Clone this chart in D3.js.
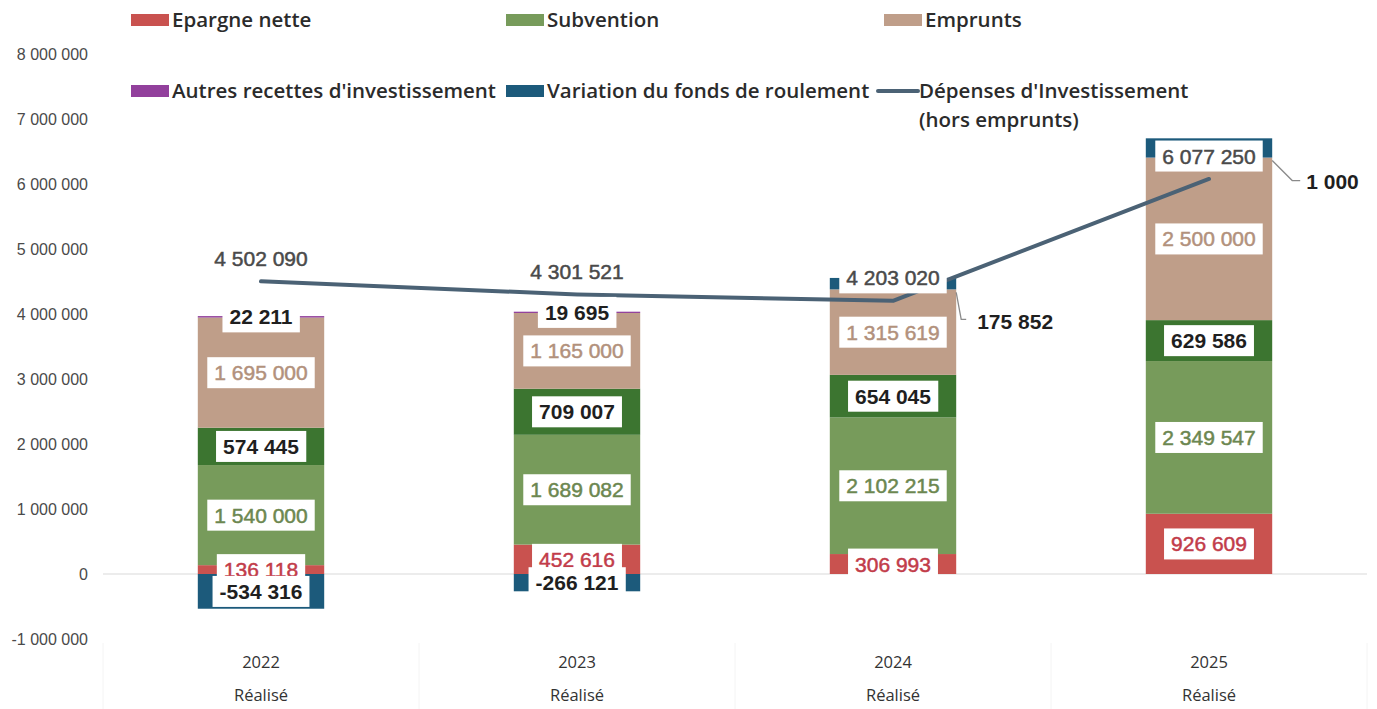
<!DOCTYPE html>
<html>
<head>
<meta charset="utf-8">
<script src="https://cdn.jsdelivr.net/npm/d3@7"></script>
<style>
  html, body { margin: 0; padding: 0; background: #ffffff; }
  svg { display: block; }
</style>
</head>
<body>
<svg id="chart" width="1377" height="709"></svg>
<script>
// ---- data -------------------------------------------------------------
const categories = ["2022", "2023", "2024", "2025"];
const categoryStatus = ["Réalisé", "Réalisé", "Réalisé", "Réalisé"];

const epargneNette   = [136118, 452616, 306993, 926609];
const subvention     = [1540000, 1689082, 2102215, 2349547];
const dotations      = [574445, 709007, 654045, 629586];
const emprunts       = [1695000, 1165000, 1315619, 2500000];
const autresRecettes = [22211, 19695, 0, 1000];
const variationFdr   = [-534316, -266121, 175852, 296000];
const depensesInvest = [4502090, 4301521, 4203020, 6077250];

const yTicks = [-1000000, 0, 1000000, 2000000, 3000000, 4000000, 5000000, 6000000, 7000000, 8000000];

// ---- series styling ---------------------------------------------------
const series = [
  { key: "epargne",    values: epargneNette,   color: "#c9524f", text: "#c23c4a", bold: false },
  { key: "subvention", values: subvention,     color: "#779b5b", text: "#6c8750", bold: false },
  { key: "dotations",  values: dotations,      color: "#3c7530", text: "#1f1f1f", bold: true  },
  { key: "emprunts",   values: emprunts,       color: "#bf9e89", text: "#b2917c", bold: false },
  { key: "autres",     values: autresRecettes, color: "#92409c", text: "#1f1f1f", bold: true  },
  { key: "variation",  values: variationFdr,   color: "#1c5a7b", text: "#1f1f1f", bold: true  }
];
const lineColor = "#4b6275";

const legendItems = [
  { name: ["Epargne nette"], color: "#c9524f", type: "rect", x: 131, y: 20 },
  { name: ["Subvention"], color: "#779b5b", type: "rect", x: 506, y: 20 },
  { name: ["Emprunts"], color: "#bf9e89", type: "rect", x: 884, y: 20 },
  { name: ["Autres recettes d'investissement"], color: "#92409c", type: "rect", x: 131, y: 91 },
  { name: ["Variation du fonds de roulement"], color: "#1c5a7b", type: "rect", x: 506, y: 91 },
  { name: ["Dépenses d'Investissement", "(hors emprunts)"], color: lineColor, type: "line", x: 878, y: 91 }
];

// labels drawn outside the bar with a leader line (offsets from the segment corner)
const callouts = {
  "variation-2024": { corner: "bottom", path: [[0, 3], [5, 30], [10, 30]], label: [21, 32] },
  "autres-2025":    { corner: "top",    path: [[0, 3], [20, 23], [28, 23]], label: [34, 24] }
};
// labels sitting under the expense label box
const hiddenLabels = new Set(["variation-2025"]);

// ---- formatting -------------------------------------------------------
const locale = d3.formatLocale({ decimal: ",", thousands: "\u00a0", grouping: [3], currency: ["", " €"], minus: "-" });
const fmt = locale.format(",d");

// ---- scales -----------------------------------------------------------
const svg = d3.select("#chart");
const x = d3.scaleBand().domain(categories).range([103, 1367]).paddingInner(0.6).paddingOuter(0.3);
const y = d3.scaleLinear().domain([-1000000, 8000000]).range([639, 54]);

// ---- y axis labels (no axis line) ------------------------------------
const yAxis = svg.append("g")
  .attr("transform", "translate(88,0)")
  .call(d3.axisLeft(y).tickValues(yTicks).tickFormat(fmt).tickSize(0).tickPadding(0));
yAxis.select(".domain").remove();
yAxis.selectAll("text")
  .attr("font-family", "Liberation Sans, Arial, sans-serif")
  .attr("font-size", 16)
  .attr("fill", "#4a4a4a");

// ---- category separators & labels -------------------------------------
const step = x.step();
const x0 = x.range()[0];
for (let i = 0; i <= categories.length; i++) {
  svg.append("line")
    .attr("x1", x0 + i * step).attr("x2", x0 + i * step)
    .attr("y1", 643).attr("y2", 709)
    .attr("stroke", "#f4f4f4").attr("stroke-width", 1);
}
const catG = svg.append("g");
categories.forEach((c, i) => {
  const cx = x(c) + x.bandwidth() / 2;
  catG.append("text").attr("x", cx).attr("y", 662).attr("dy", "0.35em")
    .attr("text-anchor", "middle").attr("font-family", "Open Sans, sans-serif")
    .attr("font-size", 16.5).attr("fill", "#333").text(c);
  catG.append("text").attr("x", cx).attr("y", 695).attr("dy", "0.35em")
    .attr("text-anchor", "middle").attr("font-family", "Open Sans, sans-serif")
    .attr("font-size", 16.5).attr("fill", "#333").text(categoryStatus[i]);
});

// ---- zero line --------------------------------------------------------
svg.append("line")
  .attr("x1", 103).attr("x2", 1367)
  .attr("y1", y(0)).attr("y2", y(0))
  .attr("stroke", "#dadada").attr("stroke-width", 1.2);

// ---- stacked bars -----------------------------------------------------
const rows = categories.map((c, i) => {
  const r = { cat: c };
  series.forEach(s => { r[s.key] = s.values[i]; });
  return r;
});
const stacked = d3.stack()
  .keys(series.map(s => s.key))
  .offset(d3.stackOffsetDiverging)(rows);

const barG = svg.append("g");
stacked.forEach((layer, li) => {
  barG.selectAll(null)
    .data(layer.filter(d => d[1] !== d[0]))
    .join("rect")
    .attr("x", d => x(d.data.cat))
    .attr("width", x.bandwidth())
    .attr("y", d => y(Math.max(d[0], d[1])))
    .attr("height", d => Math.abs(y(d[0]) - y(d[1])))
    .attr("fill", series[li].color);
});

// ---- expense line -----------------------------------------------------
const linePts = categories.map((c, i) => [x(c) + x.bandwidth() / 2, y(depensesInvest[i])]);
svg.append("path")
  .attr("d", d3.line()(linePts))
  .attr("fill", "none")
  .attr("stroke", lineColor)
  .attr("stroke-width", 4)
  .attr("stroke-linecap", "round")
  .attr("stroke-linejoin", "round");

// ---- labels -----------------------------------------------------------
const labelG = svg.append("g");
function boxedLabel(text, cx, cy, color, bold) {
  const g = labelG.append("g");
  const rect = g.append("rect").attr("fill", "#ffffff");
  const t = g.append("text")
    .attr("x", cx).attr("y", cy).attr("dy", "0.36em")
    .attr("text-anchor", "middle")
    .attr("font-family", "Liberation Sans, Arial, sans-serif")
    .attr("font-size", 21)
    .attr("font-weight", bold ? 700 : 400)
    .attr("fill", color)
    .attr("stroke", bold ? "none" : color)
    .attr("stroke-width", bold ? 0 : 0.5)
    .text(text);
  const bb = t.node().getBBox();
  const padX = 7, padY = 4;
  rect.attr("x", bb.x - padX).attr("y", bb.y - padY)
    .attr("width", bb.width + 2 * padX).attr("height", bb.height + 2 * padY);
}

stacked.forEach((layer, li) => {
  const s = series[li];
  layer.forEach((d, i) => {
    const v = s.values[i];
    if (v === 0) return;
    const id = s.key + "-" + d.data.cat;
    if (hiddenLabels.has(id)) return;
    const lo = Math.min(d[0], d[1]), hi = Math.max(d[0], d[1]);
    const co = callouts[id];
    if (co) {
      const xr = x(d.data.cat) + x.bandwidth();
      const ya = co.corner === "top" ? y(hi) : y(lo);
      labelG.append("path")
        .attr("d", d3.line()(co.path.map(p => [xr + p[0], ya + p[1]])))
        .attr("fill", "none").attr("stroke", "#8a8a8a").attr("stroke-width", 1.3);
      labelG.append("text")
        .attr("x", xr + co.label[0]).attr("y", ya + co.label[1]).attr("dy", "0.36em")
        .attr("font-family", "Liberation Sans, Arial, sans-serif")
        .attr("font-size", 21).attr("font-weight", 700).attr("fill", "#1f1f1f")
        .text(fmt(v));
      return;
    }
    boxedLabel(fmt(v), x(d.data.cat) + x.bandwidth() / 2, y((lo + hi) / 2), s.text, s.bold);
  });
});

// expense values above each point
categories.forEach((c, i) => {
  boxedLabel(fmt(depensesInvest[i]), x(c) + x.bandwidth() / 2, y(depensesInvest[i]) - 23, "#4a4a4a", false);
});

// ---- legend -----------------------------------------------------------
const legG = svg.append("g");
legendItems.forEach(it => {
  if (it.type === "rect") {
    legG.append("rect").attr("x", it.x).attr("y", it.y - 6).attr("width", 38).attr("height", 12).attr("fill", it.color);
  } else {
    legG.append("line").attr("x1", it.x).attr("x2", it.x + 40).attr("y1", it.y).attr("y2", it.y)
      .attr("stroke", it.color).attr("stroke-width", 4).attr("stroke-linecap", "round");
  }
  it.name.forEach((line, k) => {
    legG.append("text")
      .attr("x", it.x + 41).attr("y", it.y + k * 29).attr("dy", "0.35em")
      .attr("font-family", "Open Sans, sans-serif")
      .attr("font-size", 20.5).attr("font-weight", 600)
      .attr("fill", "#2b2b2b")
      .text(line);
  });
});
</script>
</body>
</html>
